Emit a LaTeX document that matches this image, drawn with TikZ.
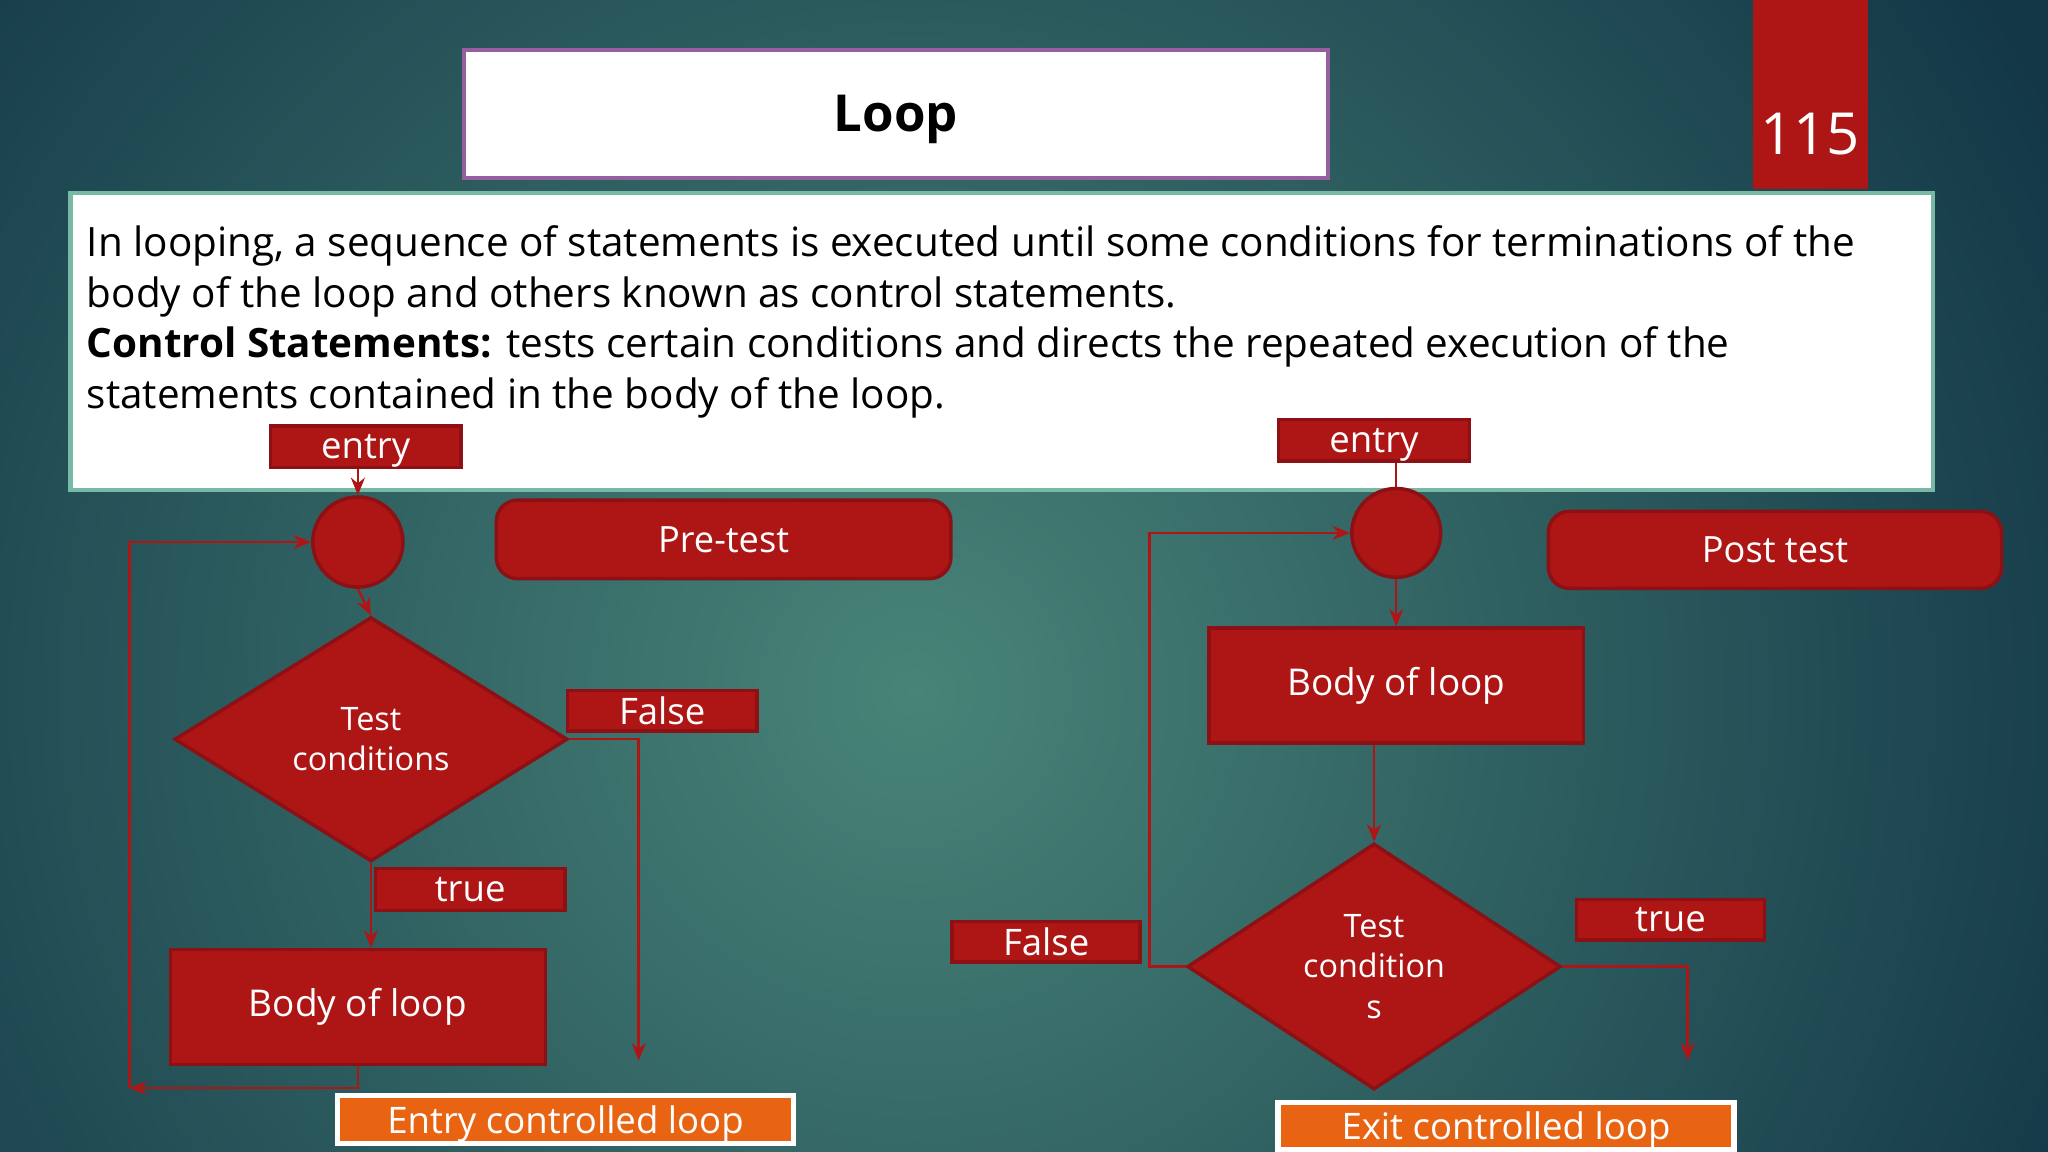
\documentclass[tikz,border=0pt]{standalone}
\usepackage{fontspec}
\setmainfont{Open Sans}
\usetikzlibrary{arrows.meta,shapes.geometric}
\newcommand{\px}{0.013061cm}
\definecolor{bgdark}{RGB}{19,55,71}
\definecolor{bglight}{RGB}{72,132,120}
\definecolor{redfill}{RGB}{174,22,22}
\definecolor{redline}{RGB}{140,16,20}
\definecolor{capfill}{RGB}{232,100,18}
\definecolor{titleline}{RGB}{150,95,160}
\definecolor{textline}{RGB}{120,185,165}

\begin{document}
\begin{tikzpicture}[x=\px, y=-\px, >=Stealth,
      shape base/.style={draw=redline, fill=redfill, text=white, line width=1pt, inner sep=0pt, align=center},
      tag/.style={shape base, minimum width=146*\px, minimum height=32*\px, text depth=0pt, font=\fontsize{10.4}{12}\selectfont},
      note/.style={shape base, rounded corners=6pt, minimum width=348*\px, minimum height=60*\px, font=\fontsize{10.3}{12}\selectfont},
      body/.style={shape base, minimum width=287*\px, minimum height=88*\px, font=\fontsize{10.5}{13}\selectfont},
      cond/.style={shape base, diamond, font=\fontsize{9.2}{11.5}\selectfont},
      junc/.style={shape base, circle, minimum size=69*\px},
      banner/.style={draw=white, fill=capfill, text=white, line width=1.5pt, inner sep=0pt, minimum width=349*\px, minimum height=37*\px, text depth=0pt, font=\fontsize{10.4}{12}\selectfont},
      arr/.style={->, draw=redfill, line width=0.7pt, >={Stealth[length=5pt, width=4pt]}},
      link/.style={draw=redfill, line width=0.7pt}]
      \useasboundingbox (0,0) rectangle (1568,882);
      % background
      \fill[bgdark] (0,0) rectangle (1568,882);
      \begin{scope}
        \clip (0,0) rectangle (1568,882);
        \shade[inner color=bglight, outer color=bgdark] (700,530) circle[radius=980];
      \end{scope}
      % heading
      \node[draw=titleline, fill=white, line width=1.2pt, minimum width=662*\px, minimum height=98*\px, text depth=0pt, font=\fontsize{14.5}{17}\bfseries] (title) at (686,87) {Loop};
      \fill[redfill] (1342,0) rectangle (1430,145);
      \node[text=white, font=\fontsize{16.5}{20}\selectfont] (page) at (1386,103) {115};
      \node[draw=textline, fill=white, line width=1.2pt, minimum width=1426*\px, minimum height=227*\px] (intro) at (767,261.5) {};
      \node[anchor=north west, align=left, inner sep=0pt, font=\fontsize{11.5}{14.44}\selectfont] (introtext) at (66,172)
        {In looping, a sequence of statements is executed until some conditions for terminations of the\\
         body of the loop and others known as control statements.\\
         \textbf{Control Statements:} tests certain conditions and directs the repeated execution of the\\
         statements contained in the body of the loop.};
      % pre-test loop
      \node[tag] (entryL) at (280,342) {entry};
      \node[junc] (circL) at (274,415) {};
      \node[note] (preL) at (554,413) {Pre-test};
      \node[cond, minimum width=301*\px, minimum height=187*\px] (condL) at (284,566) {Test\\conditions};
      \node[tag, minimum width=145*\px, minimum height=31*\px] (falseL) at (507,544) {False};
      \node[tag, minimum width=145*\px] (trueL) at (360,681) {true};
      \node[body] (bodyL) at (274,771) {Body of loop};
      \node[banner] (capL) at (433,857) {Entry controlled loop};
      \coordinate (backL) at (99,833);
      \coordinate (exitL) at (489,812);
      \draw[arr] (circL.north |- entryL.south) -- (circL.north);
      \draw[arr] (circL.south) -- (condL.north);
      \draw[arr] (condL.south) -- (condL.south |- bodyL.north);
      \draw[arr] (bodyL.south) |- (backL);
      \draw[arr] (backL) |- (circL.west);
      \draw[arr] (condL.east) -| (exitL);
      % post-test loop
      \node[tag] (entryR) at (1052,337) {entry};
      \node[junc, minimum size=68*\px] (circR) at (1069,408) {};
      \node[note, minimum width=347*\px, minimum height=59*\px] (postR) at (1359,421) {Post test};
      \node[body] (bodyR) at (1069,525) {Body of loop};
      \node[cond, minimum width=286*\px, minimum height=187*\px] (condR) at (1052,740) {Test\\condition\\s};
      \node[tag, minimum width=144*\px, minimum height=31*\px] (trueR) at (1279,704) {true};
      \node[tag, minimum width=144*\px, minimum height=31*\px] (falseR) at (801,721) {False};
      \node[banner, minimum height=36*\px] (capR) at (1153,862) {Exit controlled loop};
      \coordinate (backR) at (880,408);
      \coordinate (exitR) at (1292,812);
      \draw[link] (circR.north |- entryR.south) -- (circR.north);
      \draw[arr] (circR.south) -- (circR.south |- bodyR.north);
      \draw[arr] (condR.north |- bodyR.south) -- (condR.north);
      \draw[arr] (condR.west) -| (backR) -- (circR.west);
      \draw[arr] (condR.east) -| (exitR);
\end{tikzpicture}
\end{document}
